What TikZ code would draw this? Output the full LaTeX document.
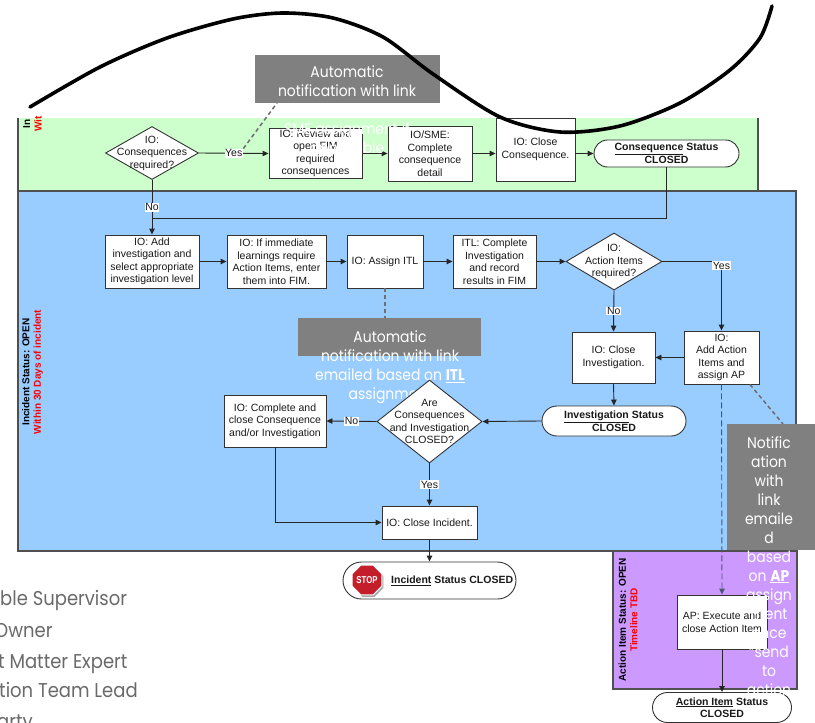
\documentclass[tikz,border=0pt]{standalone}
\usepackage{fontspec}
\setmainfont{Liberation Sans}
\newfontfamily\geo[FakeStretch=0.9]{Poppins}
\usetikzlibrary{arrows.meta,shapes.geometric,shapes.misc}
\definecolor{lgreen}{HTML}{CCFFCC}
\definecolor{lblue}{HTML}{99CCFF}
\definecolor{lpurple}{HTML}{CC99FF}
\definecolor{ovgrey}{HTML}{808080}
\definecolor{lanebd}{HTML}{505050}
\definecolor{boxbd}{HTML}{333333}
\definecolor{lblred}{HTML}{FF0000}
\definecolor{legendgrey}{HTML}{6A6A6A}
\definecolor{stopred}{HTML}{C41E2A}
\definecolor{dashblue}{HTML}{4A5570}
\definecolor{dashgrey}{HTML}{6E6E6E}
\newcommand\bxf{\fontsize{10.5}{12.5}\selectfont}
\tikzset{
  proc/.style={draw=boxbd, fill=white, line width=0.9pt, align=center, inner sep=1pt, font=\bxf, text=black!90},
  dia/.style={diamond, draw=boxbd, fill=white, line width=0.9pt, inner sep=0pt},
  diatext/.style={align=center, font=\bxf, inner sep=0pt, text=black!90},
  term/.style={rounded rectangle, draw=boxbd, fill=white, line width=0.9pt, align=center, inner sep=1pt, font=\bxf\bfseries, text=black!90},
  conn/.style={draw=black!85, line width=0.9pt, -{Triangle[length=6pt,width=5.5pt]}},
  plain/.style={draw=black!85, line width=0.9pt},
  lbl/.style={fill=white, inner sep=0.6pt, font=\bxf, text=black!90},
  ovbox/.style={fill=ovgrey, draw=none, inner sep=0pt},
  ovtext/.style={align=center, text=white, inner sep=0pt, anchor=north, font=\geo\fontsize{15.5}{19}\selectfont},
  notelink/.style={draw=dashgrey, line width=1.5pt, dash pattern=on 4pt off 3pt},
  lanelbl/.style={rotate=90, align=center, inner sep=0pt, font=\fontsize{10}{11.5}\selectfont\bfseries},
  legend/.style={anchor=base west, inner sep=0pt, text=legendgrey, font=\geo\fontsize{20}{24}\selectfont},
}
\begin{document}
\begin{tikzpicture}[x=1pt,y=-1pt]
\useasboundingbox (0,0) rectangle (815,723);
\clip (0,0) rectangle (815,723);
\fill[white] (0,0) rectangle (815,723);
% lanes
\fill[lgreen] (18,118) rectangle (758,191);
\draw[lanebd, line width=1.2pt] (18,118) -- (18,191) (758,118) -- (758,191);
\filldraw[fill=lblue, draw=lanebd, line width=1.4pt] (18,191) rectangle (796,551);
\filldraw[fill=lpurple, draw=lanebd, line width=1.4pt] (613,551) rectangle (797,689);
% lane labels
\node[lanelbl] (labG) at (32.5,124) {In\\\textcolor{lblred}{Wit}};
\node[lanelbl] (labB) at (32.5,372) {Incident Status: OPEN\\\textcolor{lblred}{Within 30 Days of incident}};
\node[lanelbl] (labP) at (628,620) {Action Item Status: OPEN\\\textcolor{lblred}{Timeline TBD}};
% green lane nodes
\node[dia, minimum width=93pt, minimum height=53pt] (d1) at (152,153) {};
\node[diatext] (d1t) at (d1.center) {IO:\\Consequences\\required?};
\node[proc, minimum width=93pt, minimum height=49pt] (b1) at (315.5,153.5) {IO: Review and\\open FIM\\required\\consequences};
\node[proc, minimum width=84pt, minimum height=55pt] (b2) at (430,153.5) {IO/SME:\\Complete\\consequence\\detail};
\node[proc, minimum width=79pt, minimum height=63pt] (b3) at (535.5,149.5) {IO: Close\\Consequence.};
\node[term, minimum width=147pt, minimum height=27pt] (t1) at (666.5,153.5) {\underline{Consequence} Status\\CLOSED};
% blue lane nodes
\node[proc, minimum width=94pt, minimum height=53pt] (A) at (152,261.5) {IO: Add\\investigation and\\select appropriate\\investigation level};
\node[proc, minimum width=99pt, minimum height=53pt] (B) at (276.5,261.5) {IO: If immediate\\learnings require\\Action Items, enter\\them into FIM.};
\node[proc, minimum width=76pt, minimum height=53pt] (C) at (385,261.5) {IO: Assign ITL};
\node[proc, minimum width=83pt, minimum height=53pt] (D) at (494.5,261.5) {ITL: Complete\\Investigation\\and record\\results in FIM};
\node[dia, minimum width=96pt, minimum height=57pt] (d2) at (614,261.5) {};
\node[diatext] (d2t) at (d2.center) {IO:\\Action Items\\required?};
\node[proc, minimum width=75pt, minimum height=53pt] (E) at (721.5,357.5) {IO:\\Add Action\\Items and\\assign AP};
\node[proc, minimum width=83pt, minimum height=51pt] (F) at (613.5,357.5) {IO: Close\\Investigation.};
\node[term, minimum width=146pt, minimum height=30pt] (G) at (614,421) {\underline{Investigation} Status\\CLOSED};
\node[proc, minimum width=102pt, minimum height=52pt] (I) at (275,421) {IO: Complete and\\close Consequence\\and/or Investigation};
\node[proc, minimum width=95pt, minimum height=33pt] (J) at (429.5,522.5) {IO: Close Incident.};
\node[term, minimum width=175pt, minimum height=37pt] (S) at (429.5,580.5) {};
\node[regular polygon, regular polygon sides=8, fill=black!35, minimum size=32pt, inner sep=0pt] (stopsh) at (368.5,582) {};
\node[regular polygon, regular polygon sides=8, fill=stopred, draw=white, line width=1pt, minimum size=31pt, inner sep=0pt, font=\fontsize{10}{10}\selectfont\bfseries, text=white] (stop) at (367,580) {\scalebox{0.78}[1]{STOP}};
\node[anchor=west, font=\bxf\bfseries, inner sep=0pt, text=black!90] (stoptxt) at (391,580.5) {\underline{Incident} Status CLOSED};
\node[proc, minimum width=90pt, minimum height=54pt] (K) at (722,622) {AP: Execute and\\close Action Item};
\node[term, minimum width=141pt, minimum height=30pt] (L) at (722,707.5) {\underline{Action Item} Status\\CLOSED};
% middle overlay (behind diamond d3)
\node[ovbox, minimum width=183pt, minimum height=38pt] (ov2) at (389.5,337) {};
\node[ovtext] (ov2t) at (390,331) {Automatic\\notification with link\\emailed based on \textbf{\underline{ITL}}\\assignment};
\node[dia, minimum width=105pt, minimum height=83pt] (d3) at (429.5,421.5) {};
\node[diatext] (d3t) at (d3.center) {Are\\Consequences\\and Investigation\\CLOSED?};
% connectors
\coordinate (j1) at (152,218);
\draw[conn] (d1.east) -- node[lbl] (yes1) {Yes} (b1.west);
\draw[conn] (b1.east) -- (b2.west);
\draw[conn] (b2.east) -- (b3.west |- b2.east);
\draw[conn] (b3.east |- t1.west) -- (t1.west);
\draw[conn] (d1.south) -- node[lbl] (no1) {No} (A.north);
\draw[plain] (t1.south) |- (j1);
\draw[conn] (A.east) -- (B.west);
\draw[conn] (B.east) -- (C.west);
\draw[conn] (C.east) -- (D.west);
\draw[conn] (D.east) -- (d2.west);
\draw[conn] (d2.east) -| node[lbl, pos=0.53] (yes2) {Yes} (E.north);
\draw[conn] (d2.south) -- node[lbl] (no2) {No} (F.north);
\draw[conn] (E.west) -- (F.east);
\draw[conn] (F.south) -- (G.north);
\draw[conn] (G.west) -- (d3.east);
\draw[conn] (d3.west) -- node[lbl] (no3) {No} (I.east);
\draw[conn] (d3.south) -- node[lbl] (yes3) {Yes} (J.north);
\draw[conn] (I.south) |- (J.west);
\draw[conn] (J.south) -- (S.north);
\draw[conn, draw=dashblue, dash pattern=on 6pt off 3pt] (E.south) -- (K.north);
\draw[conn] (K.south) -- (L.north);
% note links
\coordinate (ov1foot) at (277,103);
\coordinate (eLink) at (750,384.5);
\coordinate (ov3foot) at (783,424);
\draw[notelink] (yes1.north east) -- (ov1foot);
\draw[notelink] (C.south) -- (C.south |- ov2.north);
\draw[notelink] (eLink) -- (ov3foot);
% top overlay
\node[ovbox, minimum width=185pt, minimum height=48pt] (ov1) at (347.5,79) {};
\node[ovtext] (ov1t) at (347,65.5) {Automatic\\notification with link\\emailed based on\\SME assignment if\\applicable};
% right overlay
\node[ovbox, minimum width=100pt, minimum height=126pt] (ov3) at (777,487) {};
\node[ovtext] (ov3t) at (769,436) {Notific\\ation\\with\\link\\emaile\\d\\based\\on \textbf{\underline{AP}}\\assign\\ment\\once\\“send\\to\\action};
% legend
\node[legend] (lg1) at (0,605) {ble Supervisor};
\node[legend] (lg2) at (-6,637) {Owner};
\node[legend] (lg3) at (-2,668) {t Matter Expert};
\node[legend] (lg4) at (-1,697) {tion Team Lead};
\node[legend] (lg5) at (-3,728) {arty};
% freehand curve
\draw[line width=3.6pt, line cap=round, black] plot[smooth] coordinates {(30,107) (100,67) (167,38) (233,19) (283,13) (333,18) (383,37) (433,74) (500,117) (560,132) (620,126) (680,103) (730,70) (760,38) (772,6)};
\end{tikzpicture}
\end{document}
